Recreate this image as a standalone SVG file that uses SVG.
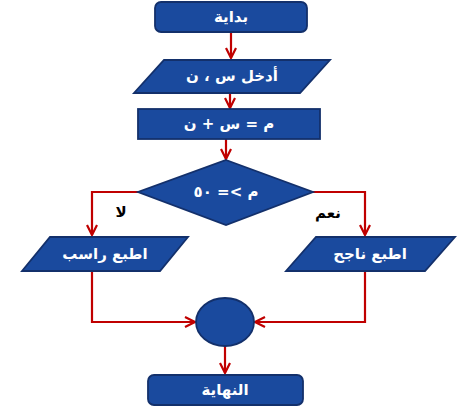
<svg xmlns="http://www.w3.org/2000/svg" width="463" height="407" viewBox="0 0 463 407">
<defs>
<style>
.shape{fill:#1a4a9e;stroke:#13306b;stroke-width:1.8}
.t{fill:#fff;font-family:"DejaVu Sans",sans-serif;font-weight:bold;font-size:15px;text-anchor:middle;dominant-baseline:central}
.lbl{fill:#000;font-family:"DejaVu Sans",sans-serif;font-weight:bold;font-size:15px;text-anchor:middle;dominant-baseline:central}
.c{fill:none;stroke:#c00000;stroke-width:2.2}
</style>
<marker id="ah" viewBox="0 0 12 12" refX="11" refY="6" markerWidth="12" markerHeight="12" markerUnits="userSpaceOnUse" orient="auto">
<path d="M1,1 L11,6 L1,11" fill="none" stroke="#c00000" stroke-width="2.2"/>
</marker>
</defs>
<rect width="463" height="407" fill="#fff"/>
<g id="connectors">
<path class="c" d="M231,32 V58" marker-end="url(#ah)"/>
<path class="c" d="M230,93 V108" marker-end="url(#ah)"/>
<path class="c" d="M226,139 V159" marker-end="url(#ah)"/>
<path class="c" d="M138,192 H92 V235" marker-end="url(#ah)"/>
<path class="c" d="M313,192 H365 V235" marker-end="url(#ah)"/>
<path class="c" d="M92,271 V322 H195" marker-end="url(#ah)"/>
<path class="c" d="M365,271 V322 H255" marker-end="url(#ah)"/>
<path class="c" d="M225,346 V373" marker-end="url(#ah)"/>
<text class="lbl" x="121" y="212">لا</text>
<text class="lbl" x="328" y="213">نعم</text>
</g>
<g id="start">
<rect class="shape" x="155" y="2" width="152" height="30" rx="6"/>
<text class="t" x="231" y="17">بداية</text>
</g>
<g id="input">
<polygon class="shape" points="164,60 330,60 300,93 134,93"/>
<text class="t" x="232" y="76">أدخل س ، ن</text>
</g>
<g id="process">
<rect class="shape" x="138" y="109" width="182" height="30"/>
<text class="t" x="229" y="124">م = س + ن</text>
</g>
<g id="decision">
<polygon class="shape" points="226,160 313,192 226,225 138,192"/>
<text class="t" x="226" y="192">م &gt;= ٥٠</text>
</g>
<g id="printFail">
<polygon class="shape" points="50,237 188,237 160,271 22,271"/>
<text class="t" x="105" y="254">اطبع راسب</text>
</g>
<g id="printPass">
<polygon class="shape" points="316,237 455,237 425,271 286,271"/>
<text class="t" x="370" y="254">اطبع ناجح</text>
</g>
<g id="connector">
<ellipse class="shape" cx="225" cy="322" rx="29" ry="24"/>
</g>
<g id="end">
<rect class="shape" x="148" y="375" width="155" height="30" rx="6"/>
<text class="t" x="225" y="390">النهاية</text>
</g>
</svg>
